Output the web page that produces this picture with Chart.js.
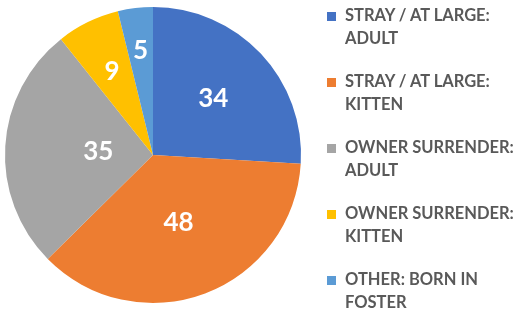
<!DOCTYPE html>
<html lang="en">
  <head>
    <meta charset="UTF-8" />
    <title>Intake</title>
    <script src="https://cdn.jsdelivr.net/npm/chart.js"></script>
    <style>
      body { margin: 0; background: #fff; }
      #wrap { position: relative; width: 517px; height: 312px; overflow: hidden; }
      #legend { position: absolute; left: 327px; top: 4px; width: 200px; margin: 0; padding: 0; list-style: none;
        white-space: nowrap; font-family: Lato, "Open Sans", sans-serif; font-weight: bold;
        font-size: 16.5px; color: #595959; }
      #legend li { position: relative; padding-left: 18px; height: 66px; line-height: 23px; }
      #legend span { position: absolute; left: 0; top: 8px; width: 9px; height: 9px; }
    </style>
  </head>
  <body>
    <div id="wrap">
      <canvas width="517" height="312"></canvas>
      <ul id="legend"></ul>
    </div>
    <script>
      const labels = [
        ["STRAY / AT LARGE:", "ADULT"],
        ["STRAY / AT LARGE:", "KITTEN"],
        ["OWNER SURRENDER:", "ADULT"],
        ["OWNER SURRENDER:", "KITTEN"],
        ["OTHER: BORN IN", "FOSTER"],
      ];
      const values = [34, 48, 35, 9, 5];
      const colors = ["#4472C4", "#ED7D31", "#A5A5A5", "#FFC000", "#5B9BD5"];
      // how far out each number sits (fraction of radius)
      const labelDist = [0.56, 0.49, 0.37, 0.63, 0.71];

      const valueLabels = {
        id: "valueLabels",
        afterDatasetsDraw(chart) {
          const c = chart.ctx;
          const meta = chart.getDatasetMeta(0);
          c.save();
          c.fillStyle = "#fff";
          c.font = "bold 26px Lato, 'Open Sans', sans-serif";
          c.textAlign = "center";
          c.textBaseline = "middle";
          meta.data.forEach((arc, i) => {
            const mid = (arc.startAngle + arc.endAngle) / 2;
            const r = arc.outerRadius * labelDist[i];
            c.fillText(values[i], arc.x + Math.cos(mid) * r, arc.y + Math.sin(mid) * r);
          });
          c.restore();
        },
      };

      const ctx = document.querySelector("canvas");
      new Chart(ctx, {
        type: "pie",
        data: {
          labels: labels.map((l) => l.join(" ")),
          datasets: [{ data: values, backgroundColor: colors, borderWidth: 0 }],
        },
        options: {
          responsive: false,
          animation: false,
          layout: { padding: { left: 5, right: 216, top: 7, bottom: 9 } },
          plugins: { legend: { display: false }, tooltip: { enabled: false } },
        },
        plugins: [valueLabels],
      });

      const ul = document.getElementById("legend");
      labels.forEach((l, i) => {
        const li = document.createElement("li");
        li.innerHTML = '<span style="background:' + colors[i] + '"></span>' + l.join("<br>");
        ul.appendChild(li);
      });
    </script>
  </body>
</html>
